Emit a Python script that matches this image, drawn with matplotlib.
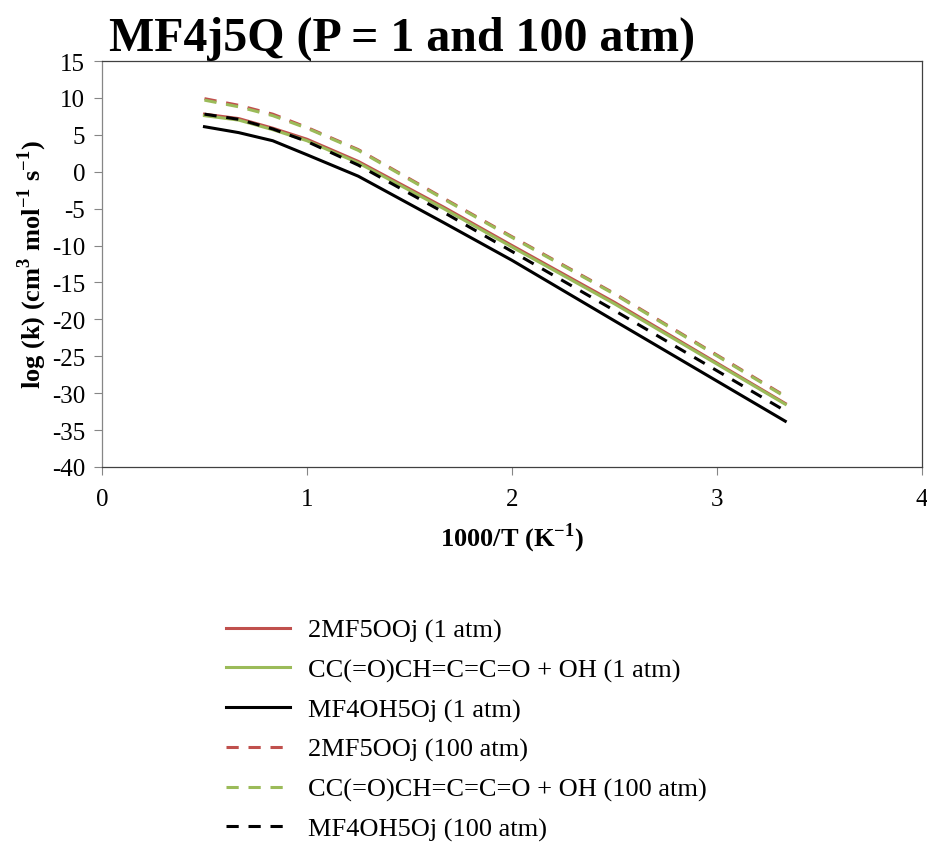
import matplotlib
matplotlib.use("Agg")
import matplotlib.pyplot as plt

plt.rcParams['font.family'] = ['Liberation Serif', 'DejaVu Serif']
plt.rcParams['mathtext.fontset'] = 'custom'
plt.rcParams['mathtext.rm'] = 'Liberation Serif'
plt.rcParams['mathtext.bf'] = 'Liberation Serif:bold'
plt.rcParams['axes.unicode_minus'] = False

# 1000/T for T = 2000, 1500, 1200, 1000, 800, 600, 500, 400, 300 K
inv_T = [0.5, 0.667, 0.833, 1.0, 1.25, 1.667, 2.0, 2.5, 3.333]

mf5ooj_1 = [7.8, 7.2, 5.9, 4.4, 1.4, -4.8, -10.0, -17.7, -31.4]
ketene_oh_1 = [7.6, 7.0, 5.7, 4.2, 1.2, -5.0, -10.2, -17.9, -31.5]
mf4oh5oj_1 = [6.1, 5.3, 4.2, 2.3, -0.6, -6.9, -12.0, -20.2, -33.8]
mf5ooj_100 = [9.9, 9.0, 7.8, 6.0, 3.0, -3.6, -8.8, -16.5, -30.4]
ketene_oh_100 = [9.7, 8.8, 7.6, 5.9, 2.9, -3.7, -8.9, -16.6, -30.5]
mf4oh5oj_100 = [7.8, 7.1, 5.8, 4.1, 0.9, -5.5, -10.8, -18.8, -32.4]

labels = ['2MF5OOj (1 atm)', 'CC(=O)CH=C=C=O + OH (1 atm)', 'MF4OH5Oj (1 atm)',
          '2MF5OOj (100 atm)', 'CC(=O)CH=C=C=O + OH (100 atm)', 'MF4OH5Oj (100 atm)']

red = '#C0504D'
green = '#9BBB59'

fig = plt.figure(figsize=(9.27, 8.45), dpi=100)
ax = fig.add_axes([0.110, 0.4462, 0.8846, 0.4804])

lw = 2.2
dash = (4.0, 3.2)
ax.plot(inv_T, mf5ooj_1, color=red, lw=lw, label=labels[0])
ax.plot(inv_T, ketene_oh_1, color=green, lw=lw, label=labels[1])
ax.plot(inv_T, mf4oh5oj_1, color='black', lw=lw, label=labels[2])
ax.plot(inv_T, mf5ooj_100, color=red, lw=lw, dashes=dash, label=labels[3])
ax.plot(inv_T, ketene_oh_100, color=green, lw=lw, dashes=dash, label=labels[4])
ax.plot(inv_T, mf4oh5oj_100, color='black', lw=lw, dashes=dash, label=labels[5])

ax.set_xlim(0, 4)
ax.set_ylim(-40, 15)
ax.set_xticks(range(0, 5))
ax.set_yticks(range(-40, 16, 5))
ax.tick_params(labelsize=18, direction='out', length=6, color='#868686')
ax.tick_params(axis='x', pad=9)
ax.tick_params(axis='y', pad=6)
for s in ax.spines.values():
    s.set_color('#404040')
    s.set_linewidth(0.9)
ax.spines['left'].set_color('#868686')

ax.set_xlabel(r'1000/T (K$^{\mathbf{-1}}$)', fontsize=19, fontweight='bold', labelpad=8)
ax.set_ylabel(r'log (k) (cm$^{\mathbf{3}}$ mol$^{\mathbf{-1}}$ s$^{\mathbf{-1}}$)',
              fontsize=19, fontweight='bold', labelpad=2)
fig.text(0.118, 0.940, 'MF4j5Q (P = 1 and 100 atm)', fontsize=34.5, fontweight='bold',
         ha='left', va='baseline')

fig.legend(loc='upper left', bbox_to_anchor=(0.244, 0.267), frameon=False,
           fontsize=19, handlelength=2.4, handletextpad=0.7, labelspacing=0.6,
           borderpad=0, borderaxespad=0)

fig.savefig('out.png', dpi=100)
